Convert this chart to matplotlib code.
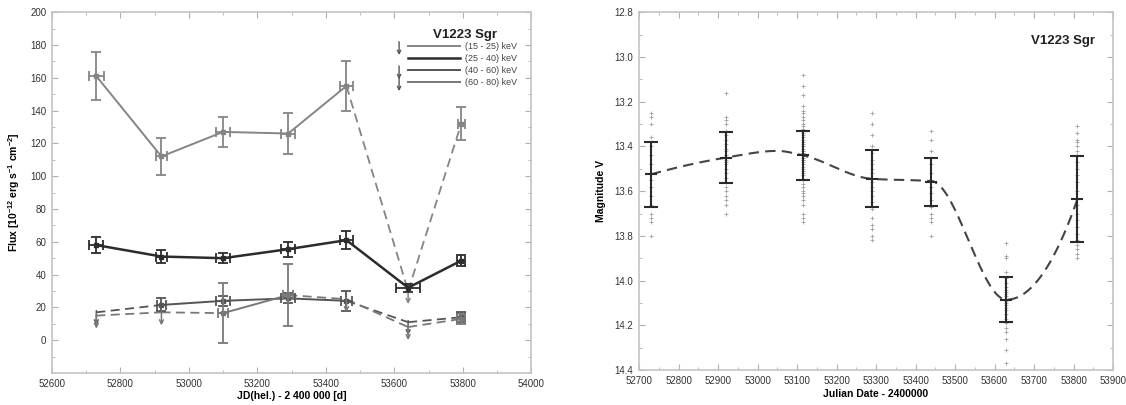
import numpy as np
import matplotlib.pyplot as plt
from matplotlib.ticker import MultipleLocator, FormatStrFormatter

plt.rcParams['font.family'] = ['Liberation Sans', 'DejaVu Sans']
plt.rcParams['mathtext.fontset'] = 'custom'
plt.rcParams['mathtext.rm'] = 'Liberation Sans:bold'
plt.rcParams['mathtext.bf'] = 'Liberation Sans:bold'
plt.rcParams['mathtext.default'] = 'bf'

# --- hard X-ray fluxes (left panel) ---
jd_x = [52730, 52920, 53100, 53290, 53460, 53640, 53795]
bands = ['(15 - 25) keV', '(25 - 40) keV', '(40 - 60) keV', '(60 - 80) keV']

flux_15_25 = [161, 112, 127, 126, 155, 30, 132]
yerr_15_25 = [14.5, 11, 9, 12.5, 15, 0, 10]
xerr_15_25 = [22, 15, 20, 20, 20, 0, 10]
lim_15_25 = [0, 0, 0, 0, 0, 1, 0]

flux_25_40 = [58, 51, 50, 55.5, 61, 32, 48.5]
yerr_25_40 = [5, 4, 3, 4.5, 5.5, 2.5, 3.5]
xerr_25_40 = [20, 15, 20, 20, 20, 36, 12]
lim_25_40 = [0, 0, 0, 0, 0, 0, 0]

flux_40_60 = [17, 21.5, 24, 25.5, 24, 11, 14]
yerr_40_60 = [0, 4, 3, 3, 6, 0, 3]
xerr_40_60 = [0, 12, 20, 20, 15, 0, 12]
lim_40_60 = [1, 0, 0, 0, 0, 1, 0]

flux_60_80 = [15, 17, 16.5, 27.5, 25, 8, 13]
yerr_60_80 = [0, 0, 18.5, 19, 0, 0, 3]
xerr_60_80 = [0, 0, 15, 15, 0, 0, 12]
lim_60_80 = [1, 1, 0, 0, 1, 1, 0]

# --- optical V magnitudes (right panel) ---
opt_jd = [52730, 52920, 53115, 53290, 53440, 53630, 53810]
opt_mean = [13.525, 13.45, 13.44, 13.545, 13.56, 14.085, 13.635]
opt_err = [0.145, 0.115, 0.11, 0.128, 0.108, 0.10, 0.19]

# Stuetzstellen der gestrichelten Trendkurve
trend_jd = [52730, 52920, 53050, 53115, 53290, 53440, 53630, 53810]
trend_mag = [13.525, 13.45, 13.42, 13.44, 13.545, 13.555, 14.085, 13.635]

obs_52730 = [13.25, 13.27, 13.30, 13.36, 13.40, 13.44, 13.48, 13.52, 13.55,
             13.58, 13.62, 13.66, 13.70, 13.72, 13.74, 13.80]
obs_52920 = [13.16, 13.27, 13.28, 13.30, 13.33, 13.35, 13.37, 13.39, 13.41,
             13.42, 13.44, 13.45, 13.46, 13.47, 13.48, 13.50, 13.52, 13.54,
             13.56, 13.58, 13.60, 13.62, 13.64, 13.66, 13.70]
obs_53115 = [13.08, 13.13, 13.17, 13.22, 13.24, 13.25, 13.27, 13.28, 13.30,
             13.31, 13.32, 13.33, 13.34, 13.35, 13.36, 13.37, 13.38, 13.39,
             13.40, 13.40, 13.41, 13.42, 13.42, 13.43, 13.43, 13.44, 13.44,
             13.45, 13.45, 13.46, 13.46, 13.47, 13.48, 13.49, 13.50, 13.51,
             13.52, 13.53, 13.55, 13.57, 13.58, 13.60, 13.61, 13.62, 13.64,
             13.66, 13.70, 13.72, 13.74]
obs_53290 = [13.25, 13.30, 13.35, 13.40, 13.43, 13.46, 13.48, 13.50, 13.52,
             13.54, 13.56, 13.58, 13.60, 13.62, 13.65, 13.68, 13.72, 13.75,
             13.77, 13.80, 13.82]
obs_53440 = [13.33, 13.37, 13.42, 13.45, 13.48, 13.52, 13.55, 13.58, 13.61,
             13.64, 13.67, 13.70, 13.72, 13.74, 13.80]
obs_53630 = [13.83, 13.89, 13.90, 13.96, 13.99, 14.01, 14.03, 14.04, 14.05,
             14.06, 14.07, 14.08, 14.09, 14.10, 14.11, 14.12, 14.13, 14.15,
             14.17, 14.19, 14.21, 14.23, 14.26, 14.31, 14.37]
obs_53810 = [13.31, 13.34, 13.37, 13.38, 13.40, 13.42, 13.44, 13.47, 13.50,
             13.53, 13.56, 13.60, 13.63, 13.66, 13.70, 13.73, 13.76, 13.79,
             13.82, 13.84, 13.86, 13.88, 13.90]
opt_obs = [obs_52730, obs_52920, obs_53115, obs_53290, obs_53440, obs_53630, obs_53810]


def pchip(x, y, xs):
    """Monotone kubische Hermite-Interpolation (Fritsch-Carlson)"""
    x = np.asarray(x, float)
    y = np.asarray(y, float)
    h = np.diff(x)
    delta = np.diff(y) / h
    n = len(x)
    d = np.zeros(n)
    for k in range(1, n - 1):
        if delta[k - 1] * delta[k] > 0:
            w1 = 2 * h[k] + h[k - 1]
            w2 = h[k] + 2 * h[k - 1]
            d[k] = (w1 + w2) / (w1 / delta[k - 1] + w2 / delta[k])
    d[0] = ((2 * h[0] + h[1]) * delta[0] - h[0] * delta[1]) / (h[0] + h[1])
    if np.sign(d[0]) != np.sign(delta[0]):
        d[0] = 0
    d[-1] = ((2 * h[-1] + h[-2]) * delta[-1] - h[-1] * delta[-2]) / (h[-1] + h[-2])
    if np.sign(d[-1]) != np.sign(delta[-1]):
        d[-1] = 0
    idx = np.clip(np.searchsorted(x, xs) - 1, 0, n - 2)
    t = (xs - x[idx]) / h[idx]
    h00 = 2 * t**3 - 3 * t**2 + 1
    h10 = t**3 - 2 * t**2 + t
    h01 = -2 * t**3 + 3 * t**2
    h11 = t**3 - t**2
    return h00 * y[idx] + h10 * h[idx] * d[idx] + h01 * y[idx + 1] + h11 * h[idx] * d[idx + 1]


def style_axes(ax):
    for sp in ax.spines.values():
        sp.set_color('#c4c4c4')
        sp.set_linewidth(1.2)
    ax.tick_params(which='both', direction='in', top=True, right=True,
                   color='#b0b0b0', labelsize=7, labelcolor='#333333', pad=4)
    ax.tick_params(which='major', length=4)
    ax.tick_params(which='minor', length=2.5)


fig = plt.figure(figsize=(11.26, 4.05), dpi=100)

# ---------------- left panel ----------------
ax1 = fig.add_axes([0.046, 0.079, 0.426, 0.891])
style_axes(ax1)

series = [
    (flux_15_25, yerr_15_25, xerr_15_25, lim_15_25, '#858585', 1.4),
    (flux_25_40, yerr_25_40, xerr_25_40, lim_25_40, '#2c2c2c', 1.8),
    (flux_40_60, yerr_40_60, xerr_40_60, lim_40_60, '#555555', 1.4),
    (flux_60_80, yerr_60_80, xerr_60_80, lim_60_80, '#787878', 1.4),
]

for flux, yerr, xerr, lim, col, lw in series:
    x = np.array(jd_x, float)
    y = np.array(flux, float)
    lim = np.array(lim, bool)
    # Verbindungslinien: gestrichelt, wenn ein Ende nur eine Obergrenze ist
    for i in range(len(x) - 1):
        ls = '--' if (lim[i] or lim[i + 1]) else '-'
        seg, = ax1.plot(x[i:i + 2], y[i:i + 2], color=col, lw=lw if ls == '-' else 1.3,
                        linestyle=ls, zorder=2)
        if ls == '--':
            seg.set_dashes((5, 3))
    det = ~lim
    ax1.errorbar(x[det], y[det], yerr=np.array(yerr)[det], xerr=np.array(xerr)[det],
                 fmt='none', ecolor=col, elinewidth=1.3, capsize=3.5, capthick=1.3, zorder=3)
    ax1.plot(x[det], y[det], 's', color=col, ms=2.2, zorder=3)
    for xi, yi in zip(x[lim], y[lim]):
        ax1.annotate('', xy=(xi, yi - 8), xytext=(xi, yi + 1),
                     arrowprops=dict(arrowstyle='->', color=col, lw=1.1,
                                     mutation_scale=7, shrinkA=0, shrinkB=0), zorder=3)

ax1.set_xlim(52600, 54000)
ax1.set_ylim(-20, 200)
ax1.xaxis.set_major_locator(MultipleLocator(200))
ax1.xaxis.set_minor_locator(MultipleLocator(100))
ax1.yaxis.set_minor_locator(MultipleLocator(10))
ax1.set_yticks([0, 20, 40, 60, 80, 100, 120, 140, 160, 180, 200])
ax1.set_xlabel('JD(hel.) - 2 400 000 [d]', fontsize=7.5, fontweight='bold', labelpad=2)
ax1.set_ylabel(r'Flux [10$^{-12}$ erg s$^{-1}$ cm$^{-2}$]', fontsize=7.5,
               fontweight='bold', labelpad=6)

# Legende von Hand
ax1.text(0.862, 0.938, 'V1223 Sgr', transform=ax1.transAxes, ha='center', va='center',
         fontsize=9.5, fontweight='bold', color='#222222')
leg_y = [0.906, 0.872, 0.839, 0.806]
leg_lim = [True, False, True, True]
for (flux, yerr, xerr, lim, col, lw), lab, ly, has_lim in zip(series, bands, leg_y, leg_lim):
    ax1.plot([0.742, 0.85], [ly, ly], color=col, lw=lw, transform=ax1.transAxes)
    ax1.text(0.862, ly, lab, transform=ax1.transAxes, ha='left', va='center',
             fontsize=6.5, color='#444444')
    if has_lim:
        ax1.annotate('', xy=(0.724, ly - 0.025), xytext=(0.724, ly + 0.012),
                     xycoords='axes fraction', textcoords='axes fraction',
                     arrowprops=dict(arrowstyle='->', color='#555555', lw=1.0,
                                     mutation_scale=6, shrinkA=0, shrinkB=0))

# ---------------- right panel ----------------
ax2 = fig.add_axes([0.5675, 0.086, 0.421, 0.884])
style_axes(ax2)

for jd, obs in zip(opt_jd, opt_obs):
    ax2.plot([jd] * len(obs), obs, '+', color='#a0a0a0', ms=2.3, mew=0.6, zorder=1)

xs = np.linspace(trend_jd[0], trend_jd[-1], 400)
curve, = ax2.plot(xs, pchip(trend_jd, trend_mag, xs), color='#444444', lw=1.5,
                  linestyle='--', zorder=2)
curve.set_dashes((5, 3))

ax2.errorbar(opt_jd, opt_mean, yerr=opt_err, fmt='_', color='#2a2a2a', ms=9, mew=1.5,
             elinewidth=1.5, capsize=5, capthick=1.5, zorder=3)

ax2.set_xlim(52700, 53900)
ax2.set_ylim(14.4, 12.8)
ax2.xaxis.set_major_locator(MultipleLocator(100))
ax2.xaxis.set_minor_locator(MultipleLocator(50))
ax2.yaxis.set_major_locator(MultipleLocator(0.2))
ax2.yaxis.set_minor_locator(MultipleLocator(0.1))
ax2.yaxis.set_major_formatter(FormatStrFormatter('%.1f'))
ax2.set_xlabel('Julian Date - 2400000', fontsize=7.5, fontweight='bold', labelpad=2)
ax2.set_ylabel('Magnitude V', fontsize=7.5, fontweight='bold', labelpad=6)
ax2.text(0.895, 0.92, 'V1223 Sgr', transform=ax2.transAxes, ha='center', va='center',
         fontsize=9.5, fontweight='bold', color='#222222')

plt.savefig('out.png', dpi=100)
